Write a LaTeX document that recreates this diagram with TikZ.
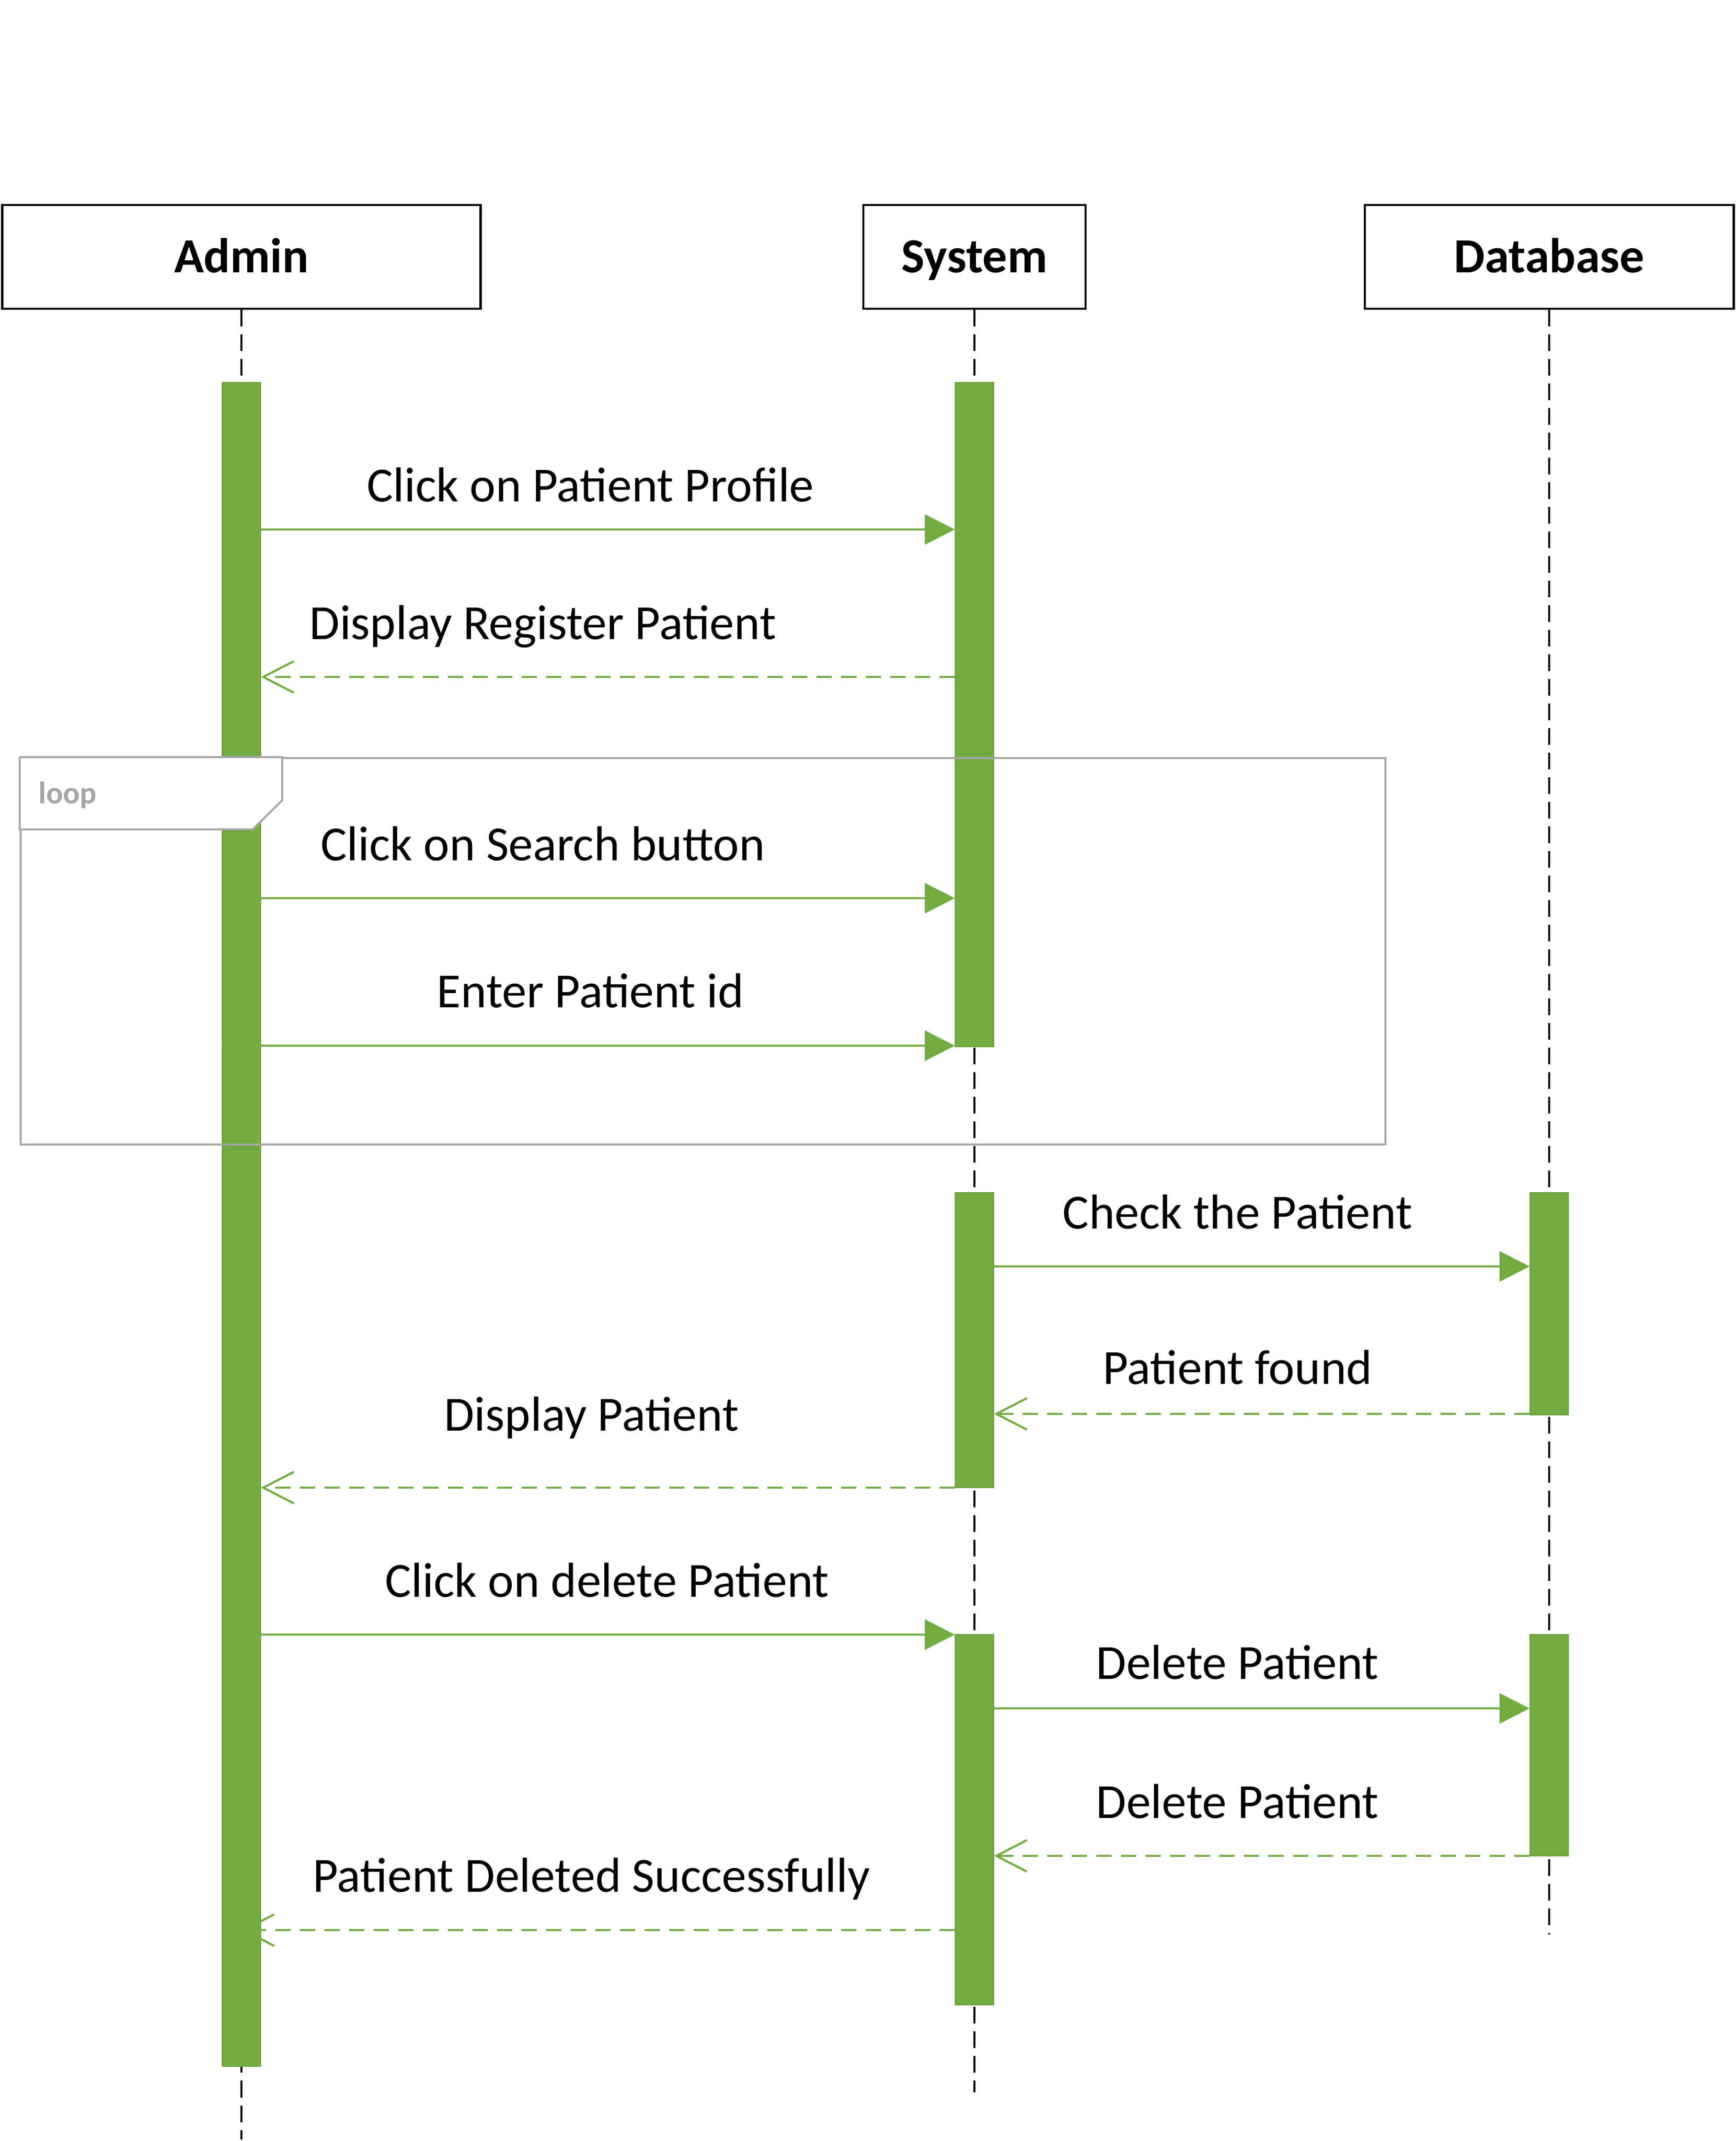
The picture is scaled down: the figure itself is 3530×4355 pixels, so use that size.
\documentclass[tikz,border=0pt]{standalone}
\usepackage{fontspec}
\setmainfont{Carlito}
\usepackage{tikz}
\usetikzlibrary{arrows.meta,calc,positioning}
\definecolor{actgreen}{RGB}{114,172,65}
\definecolor{framegray}{RGB}{166,166,166}
\tikzstyle{actor} = [rectangle, draw=black, line width=1.3pt, fill=white, minimum height=2.11cm, inner sep=0pt, font=\fontsize{28.4}{34}\selectfont\bfseries, text height=18pt, text depth=0pt]
\tikzstyle{lifeline} = [draw=black, line width=1.1pt, dash pattern=on 0.34cm off 0.16cm]
\tikzstyle{actbar} = [rectangle, fill=actgreen, draw=actgreen!92!black, line width=0.5pt, minimum width=0.78cm, inner sep=0pt, anchor=north]
\tikzstyle{call} = [draw=actgreen, line width=1.25pt, -{Triangle[length=0.61cm, width=0.61cm]}]
\tikzstyle{reply} = [draw=actgreen, line width=1.25pt, dash pattern=on 0.31cm off 0.19cm, -{Straight Barb[length=0.62cm, width=0.64cm, line width=1.2pt]}]
\tikzstyle{msg} = [font=\fontsize{28.4}{34}\selectfont, anchor=base, inner sep=0pt]

\begin{document}
\begin{tikzpicture}[x=0.01cm, y=-0.01cm]
            \useasboundingbox (0,0) rectangle (3530,4355);

            % heads
            \node[actor, minimum width=9.72cm] (Admin) at (491,522.5) {Admin};
            \node[actor, minimum width=4.52cm] (System) at (1982,522.5) {System};
            \node[actor, minimum width=7.50cm] (Database) at (3151,522.5) {Database};

            % lifelines
            \coordinate (AdminEnd) at (491,4352);
            \coordinate (SystemEnd) at (1982,4256);
            \coordinate (DatabaseEnd) at (3151,3935);
            \path
                [lifeline]
                (Admin) -- (AdminEnd)
                (System) -- (SystemEnd)
                (Database) -- (DatabaseEnd);

            % activations
            \node[actbar, minimum height=34.23cm] at (491,777) (AdminAct) {};
            \node[actbar, minimum height=13.50cm] at (1982,777) (SysAct1) {};
            \node[actbar, minimum height=6.00cm] at (1982,2425) (SysAct2) {};
            \node[actbar, minimum height=7.53cm] at (1982,3324) (SysAct3) {};
            \node[actbar, minimum height=4.52cm] at (3151,2425) (DbAct1) {};
            \node[actbar, minimum height=4.50cm] at (3151,3324) (DbAct2) {};

            % loop frame
            \node[draw=framegray, line width=1.1pt, minimum width=27.74cm, minimum height=7.86cm, inner sep=0pt, anchor=north west] at (40,1540) (Frame) {};
            \draw[framegray, line width=1.1pt, fill=white] (Frame.north west) -- ++(534,0) -- ++(0,88) -- ++(-60,59) -| (Frame.north west);
            \node[font=\fontsize{18}{22}\selectfont\bfseries, text=framegray, anchor=base west, inner sep=0pt] at (78,1634) (LoopLbl) {loop};

            % message rows
            \coordinate (m1) at (0,1077);
            \coordinate (m2) at (0,1377);
            \coordinate (m3) at (0,1827);
            \coordinate (m4) at (0,2127);
            \coordinate (m5) at (0,2576);
            \coordinate (m6) at (0,2876);
            \coordinate (m7) at (0,3026);
            \coordinate (m8) at (0,3325);
            \coordinate (m9) at (0,3475);
            \coordinate (m10) at (0,3775);
            \coordinate (m11) at (0,3926);

            \node[msg] at (1201,1020) (ClickProfile) {Click on Patient Profile};
            \node[msg] at (1104,1300) (ShowRegister) {Display Register Patient};
            \node[msg] at (1104,1750) (ClickSearch) {Click on Search button};
            \node[msg] at (1201,2049) (EnterId) {Enter Patient id};
            \node[msg] at (2517,2499) (CheckPat) {Check the Patient};
            \node[msg] at (2517,2815) (PatFound) {Patient found};
            \node[msg] at (1203,2910) (ShowPat) {Display Patient};
            \node[msg] at (1235,3248) (ClickDelete) {Click on delete Patient};
            \node[msg] at (2517,3415) (DelPat) {Delete Patient};
            \node[msg] at (2517,3698) (DelPatBack) {Delete Patient};
            \node[msg] at (1203,3848) (DelDone) {Patient Deleted Successfully};

            \draw[call] (AdminAct.east |- m1) -- (SysAct1.west |- m1);
            \draw[reply] (SysAct1.west |- m2) -- (AdminAct.east |- m2);
            \draw[call] (AdminAct.east |- m3) -- (SysAct1.west |- m3);
            \draw[call] (AdminAct.west |- m4) -- (SysAct1.west |- m4);
            \draw[call] (SysAct2.east |- m5) -- (DbAct1.west |- m5);
            \draw[reply] (DbAct1.west |- m6) -- (SysAct2.east |- m6);
            \draw[reply] (SysAct2.west |- m7) -- (AdminAct.east |- m7);
            \draw[call] (AdminAct.east |- m8) -- (SysAct3.west |- m8);
            \draw[call] (SysAct3.east |- m9) -- (DbAct2.west |- m9);
            \draw[reply] (DbAct2.west |- m10) -- (SysAct3.east |- m10);
            \draw[reply] (SysAct3.west |- m11) -- (AdminAct.center |- m11);
        \end{tikzpicture}
\end{document}
